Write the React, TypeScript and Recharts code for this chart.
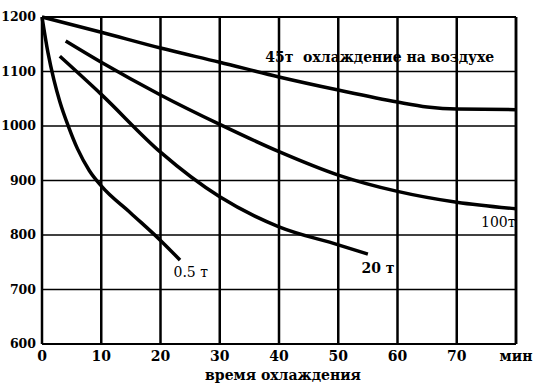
import React from "react";
import {
  LineChart,
  Line,
  XAxis,
  YAxis,
  CartesianGrid,
  ReferenceDot,
  ReferenceLine,
  Label,
} from "recharts";

const xTicks = [0, 10, 20, 30, 40, 50, 60, 70, 80];
const yTicks = [600, 700, 800, 900, 1000, 1100, 1200];

const time45 = [0, 10, 20, 30, 40, 50, 60, 65, 70, 80];
const temp45 = [1200, 1172, 1143, 1117, 1090, 1066, 1044, 1035, 1031, 1030];

const time100 = [4, 10, 20, 30, 40, 50, 60, 70, 80];
const temp100 = [1156, 1117, 1057, 1003, 953, 910, 880, 860, 848];

const time20 = [3, 10, 20, 30, 40, 50, 55];
const temp20 = [1128, 1058, 952, 870, 815, 782, 765];

const time05 = [0, 1, 2, 3, 4.5, 6, 8, 10, 15, 20, 23.3];
const temp05 = [1200, 1135, 1085, 1045, 998, 958, 918, 890, 840, 790, 754];

const toPoints = (t: number[], v: number[]) => t.map((x, i) => ({ t: x, v: v[i] }));

const serif = "DejaVu Serif";

const TextAt = ({ viewBox, text, bold }: any) => {
  const { x, y } = viewBox;
  return (
    <text
      x={x}
      y={y}
      textAnchor="middle"
      dominantBaseline="central"
      style={{ fontFamily: serif, fontSize: 14, fontWeight: bold ? "bold" : "normal", whiteSpace: "pre" }}
      fill="#000"
    >
      {text}
    </text>
  );
};

const curves = [
  { name: "45т", data: toPoints(time45, temp45) },
  { name: "100т", data: toPoints(time100, temp100) },
  { name: "20т", data: toPoints(time20, temp20) },
  { name: "0.5т", data: toPoints(time05, temp05) },
];

const notes = [
  { x: 57, y: 1127, text: "45т  охлаждение на воздухе", bold: true },
  { x: 77, y: 824, text: "100т", bold: false },
  { x: 56.7, y: 739, text: "20 т", bold: true },
  { x: 25.1, y: 732, text: "0.5 т", bold: false },
];

const xTickStyle = { fill: "#000", style: { fontFamily: serif, fontSize: 14, fontWeight: "bold" } };
const yTickStyle = { fill: "#000", style: { fontFamily: serif, fontSize: 12.5, fontWeight: "bold" } };

export default function App() {
  return (
    <div style={{ position: "absolute", left: 0, top: 0, background: "#fff", fontFamily: serif }}>
      <LineChart width={536} height={387} margin={{ top: 17, right: 20, left: 0, bottom: 0 }}>
        <CartesianGrid horizontal={true} vertical={false} stroke="#000" strokeWidth={1.5} />
        <CartesianGrid horizontal={false} vertical={true} stroke="#000" strokeWidth={2.5} />
        <XAxis
          type="number"
          dataKey="t"
          domain={[0, 80]}
          ticks={xTicks}
          interval={0}
          height={43}
          tickSize={0}
          tickMargin={7}
          stroke="#000"
          strokeWidth={2}
          tickFormatter={(v: number) => (v === 80 ? "мин" : String(v))}
          tick={xTickStyle}
        >
          <Label
            value="время охлаждения"
            position="insideBottom"
            offset={7}
            dx={4}
            style={{ fill: "#000", fontFamily: serif, fontSize: 14, fontWeight: "bold" }}
          />
        </XAxis>
        <YAxis
          type="number"
          dataKey="v"
          domain={[600, 1200]}
          ticks={yTicks}
          interval={0}
          width={42}
          tickSize={0}
          tickMargin={6}
          stroke="#000"
          strokeWidth={2}
          tick={yTickStyle}
        />
        <ReferenceLine y={1200} stroke="#000" strokeWidth={2} />
        <ReferenceLine x={80} stroke="#000" strokeWidth={2.5} />
        {curves.map((c) => (
          <Line
            key={c.name}
            data={c.data}
            dataKey="v"
            type="monotone"
            stroke="#000"
            strokeWidth={3.5}
            dot={false}
            isAnimationActive={false}
          />
        ))}
        {notes.map((n) => (
          <ReferenceDot
            key={n.text}
            x={n.x}
            y={n.y}
            r={0}
            stroke="none"
            fill="none"
            label={<TextAt text={n.text} bold={n.bold} />}
          />
        ))}
      </LineChart>
    </div>
  );
}
